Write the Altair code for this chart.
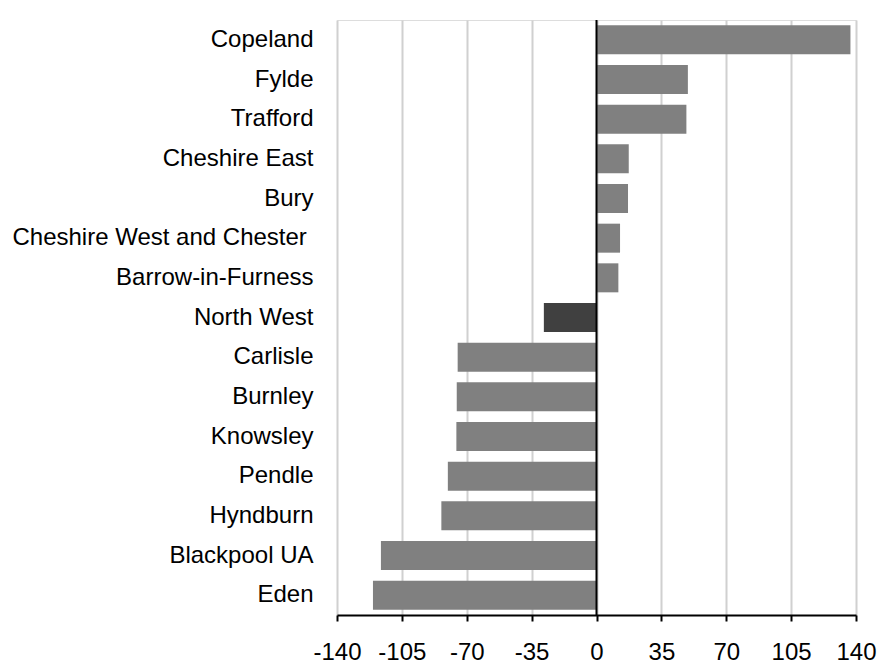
import altair as alt
import pandas as pd

areas = ["Copeland", "Fylde", "Trafford", "Cheshire East", "Bury",
         "Cheshire West and Chester\u00a0\u200b", "Barrow-in-Furness", "North West",
         "Carlisle", "Burnley", "Knowsley", "Pendle", "Hyndburn",
         "Blackpool UA", "Eden"]
values = [137, 49.3, 48.5, 17.4, 17.0, 12.7, 11.8, -28.4,
          -74.9, -75.4, -75.6, -80.2, -83.7, -116.3, -120.6]
groups = ["Area"] * 7 + ["Region"] + ["Area"] * 7
x_ticks = [-140, -105, -70, -35, 0, 35, 70, 105, 140]

df = pd.DataFrame({"area": areas, "value": values, "group": groups})
zero = pd.DataFrame({"x": [0]})

FONT = "Liberation Sans"

bars = alt.Chart(df).mark_bar(size=29).encode(
    y=alt.Y("area:N", sort=areas, title=None,
            axis=alt.Axis(domain=False, ticks=False, labelPadding=24,
                          labelFontSize=24, labelFont=FONT, labelColor="black",
                          labelLimit=400)),
    x=alt.X("value:Q", title=None,
            scale=alt.Scale(domain=[-140, 140], nice=False),
            axis=alt.Axis(values=x_ticks, grid=True, gridColor="#d0d0d0",
                          gridWidth=2, domainColor="black", domainWidth=2,
                          tickColor="black", tickWidth=2, tickSize=6,
                          labelExpr="toString(datum.value)",
                          labelFontSize=24, labelFont=FONT, labelColor="black",
                          labelPadding=19, labelFlush=False)),
    color=alt.Color("group:N", legend=None,
                    scale=alt.Scale(domain=["Area", "Region"],
                                    range=["#808080", "#404040"])),
)

zline = alt.Chart(zero).mark_rule(color="black", strokeWidth=2).encode(
    x=alt.X("x:Q")
)

chart = alt.layer(bars, zline).properties(
    width=519, height=595,
    autosize=alt.AutoSizeParams(type="none"),
    padding={"left": 337, "top": 20, "right": 22, "bottom": 47},
).configure_view(stroke=None).configure(background="white")

chart.save("out.html", embed_options={"renderer": "svg", "actions": False})
